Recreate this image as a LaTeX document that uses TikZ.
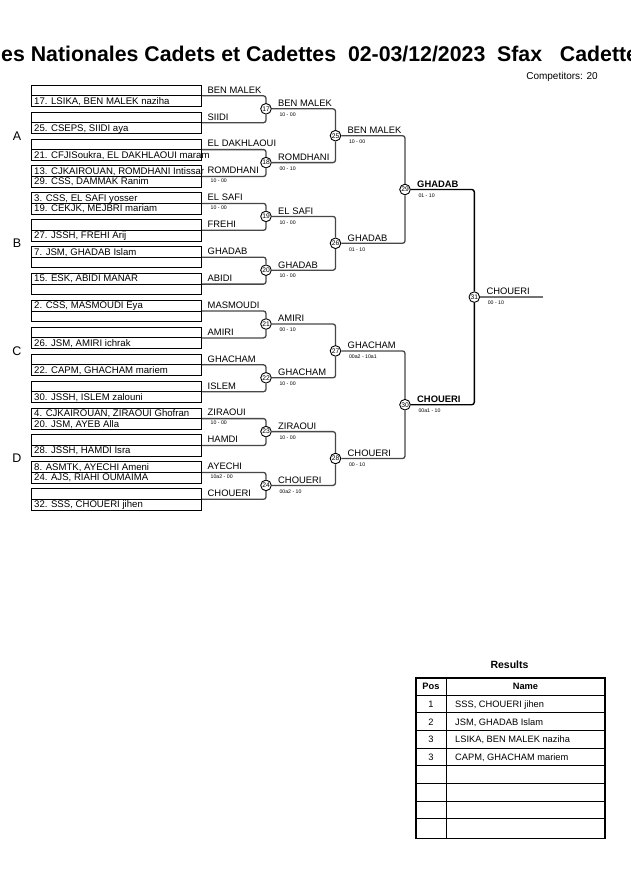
\documentclass[tikz,border=0pt]{standalone}
\usepackage{fontspec}
\setmainfont{Liberation Sans}
\newcommand\bx[6]{%
  \node[box] (b#1) at (31,#2) {};
  \draw[dv] (b#1.west) -- (b#1.east);
  \node[pn] (b#1t) at (34,#2+8.9) {#3};
  \node[pn] (b#1b) at (34,#2+19.5) {#4};
  \node[nm] (b#1l) at (207.5,#2+8.45) {#5};
  \node[sc] (b#1s) at (210.5,#2+17.45) {#6};
}
\newcommand\mt[6]{%
  \node[mc] (m#1) at (#2,#3) {#1};
  \node[nm,#6] (m#1l) at (#2+12,#3-2.2) {#4};
  \node[sc] (m#1s) at (#2+13.3,#3+7.7) {#5};
}
\begin{document}
\begin{tikzpicture}[x=1pt,y=-1pt,
  box/.style={draw=black,line width=0.9pt,rectangle,minimum width=170pt,minimum height=21.3pt,inner sep=0pt,anchor=north west},
  dv/.style={draw=black,line width=0.9pt},
  nm/.style={font=\fontsize{9.4}{10}\selectfont,inner sep=0pt,anchor=base west},
  pn/.style={font=\fontsize{9.6}{10}\selectfont,inner sep=0pt,anchor=base west},
  sc/.style={font=\fontsize{5.2}{6}\selectfont,inner sep=0pt,anchor=base west},
  mc/.style={circle,draw=black,fill=white,line width=0.9pt,minimum size=10.6pt,inner sep=0pt,font=\fontsize{6.7}{7}\selectfont},
  br/.style={draw=black!72,line width=1.3pt,rounded corners=2.5pt},
  sf/.style={draw=black,line width=1.4pt,rounded corners=2.5pt},
  fl/.style={draw=black!55,line width=1.3pt},
  grp/.style={font=\fontsize{12.5}{14}\selectfont,inner sep=0pt},
  tl/.style={draw=black,line width=0.9pt},
  th/.style={font=\bfseries\fontsize{9.3}{10}\selectfont,inner sep=0pt,anchor=base},
  tc/.style={font=\fontsize{9.3}{10}\selectfont,inner sep=0pt,anchor=base},
  tn/.style={font=\fontsize{9.3}{10}\selectfont,inner sep=0pt,anchor=base west}]
\useasboundingbox (0,0) rectangle (630,891);
\fill[white] (0,0) rectangle (630,891);

% title
\node[anchor=base west,inner sep=0pt,font=\bfseries\fontsize{21.3}{24}\selectfont] (title) at (1,62)
  {es Nationales Cadets et Cadettes\ \ 02-03/12/2023\ \ Sfax\ \ \ Cadette};
\node[anchor=base east,inner sep=0pt,font=\fontsize{10}{12}\selectfont] (comp) at (598,80) {Competitors: 20};

% group letters
\node[grp] (gA) at (17,136) {A};
\node[grp] (gB) at (17,243.5) {B};
\node[grp] (gC) at (17,351) {C};
\node[grp] (gD) at (17,458.5) {D};

% entry boxes
\bx{1}{84.7}{}{17. LSIKA, BEN MALEK naziha}{BEN MALEK}{}
\bx{2}{111.6}{}{25. CSEPS, SIIDI aya}{SIIDI}{}
\bx{3}{138.5}{}{21. CFJISoukra, EL DAKHLAOUI maram}{EL DAKHLAOUI}{}
\bx{4}{165.4}{13. CJKAIROUAN, ROMDHANI Intissar}{29. CSS, DAMMAK Ranim}{ROMDHANI}{10 - 00}
\bx{5}{192.3}{3. CSS, EL SAFI yosser}{19. CEKJK, MEJBRI mariam}{EL SAFI}{10 - 00}
\bx{6}{219.2}{}{27. JSSH, FREHI Arij}{FREHI}{}
\bx{7}{246.1}{7. JSM, GHADAB Islam}{}{GHADAB}{}
\bx{8}{273.0}{15. ESK, ABIDI MANAR}{}{ABIDI}{}
\bx{9}{299.9}{2. CSS, MASMOUDI Eya}{}{MASMOUDI}{}
\bx{10}{326.8}{}{26. JSM, AMIRI ichrak}{AMIRI}{}
\bx{11}{353.7}{}{22. CAPM, GHACHAM mariem}{GHACHAM}{}
\bx{12}{380.6}{}{30. JSSH, ISLEM zalouni}{ISLEM}{}
\bx{13}{407.5}{4. CJKAIROUAN, ZIRAOUI Ghofran}{20. JSM, AYEB Alla}{ZIRAOUI}{10 - 00}
\bx{14}{434.4}{}{28. JSSH, HAMDI Isra}{HAMDI}{}
\bx{15}{461.3}{8. ASMTK, AYECHI Ameni}{24. AJS, RIAHI OUMAIMA}{AYECHI}{10a2 - 00}
\bx{16}{488.2}{}{32. SSS, CHOUERI jihen}{CHOUERI}{}

% matches
\mt{17}{266}{108.8}{BEN MALEK}{10 - 00}{}
\mt{18}{266}{162.6}{ROMDHANI}{00 - 10}{}
\mt{19}{266}{216.4}{EL SAFI}{10 - 00}{}
\mt{20}{266}{270.2}{GHADAB}{10 - 00}{}
\mt{21}{266}{324.0}{AMIRI}{00 - 10}{}
\mt{22}{266}{377.8}{GHACHAM}{10 - 00}{}
\mt{23}{266}{431.6}{ZIRAOUI}{10 - 00}{}
\mt{24}{266}{485.4}{CHOUERI}{00a2 - 10}{}
\mt{25}{335.5}{135.7}{BEN MALEK}{10 - 00}{}
\mt{26}{335.5}{243.3}{GHADAB}{01 - 10}{}
\mt{27}{335.5}{350.9}{GHACHAM}{00a2 - 10a1}{}
\mt{28}{335.5}{458.5}{CHOUERI}{00 - 10}{}
\mt{29}{405}{189.5}{GHADAB}{01 - 10}{font=\bfseries\fontsize{9.4}{10}\selectfont}
\mt{30}{405}{404.7}{CHOUERI}{00a1 - 10}{font=\bfseries\fontsize{9.4}{10}\selectfont}
\mt{31}{474.3}{297.1}{CHOUERI}{00 - 10}{}
\coordinate (fin) at (542.7,297.1);

% round 1 brackets
\foreach \a/\b/\m in {1/2/17,3/4/18,5/6/19,7/8/20,9/10/21,11/12/22,13/14/23,15/16/24}{
  \draw[br] (b\a.east) -| (m\m);
  \draw[br] (m\m) |- (b\b.east);
}
% round 2 and 3 brackets
\foreach \a/\b/\m in {17/18/25,19/20/26,21/22/27,23/24/28,25/26/29,27/28/30}{
  \draw[br] (m\a) -| (m\m);
  \draw[br] (m\m) |- (m\b);
}
% final bracket
\draw[sf] (m29) -| (m31);
\draw[sf] (m31) |- (m30);
\draw[fl] (m31) -- (fin);

% results table
\node[anchor=base,inner sep=0pt,font=\bfseries\fontsize{10.5}{12}\selectfont] (res) at (509.5,668.5) {Results};
\node[draw=black,line width=1.7pt,rectangle,minimum width=189.3pt,minimum height=160.2pt,inner sep=0pt,anchor=north west] (tab) at (415,677.3) {};
\foreach \k in {0,...,7}{
  \draw[tl] (415,{695+17.7*\k}) -- (604.3,{695+17.7*\k});
}
\draw[tl] (446.7,677.3) -- (446.7,837.5);
\node[th] (hpos) at (431,689.5) {Pos};
\node[th] (hname) at (525.5,689.5) {Name};
\node[tc] (p1) at (431,707.3) {1};
\node[tn] (n1) at (455,707.3) {SSS, CHOUERI jihen};
\node[tc] (p2) at (431,725.0) {2};
\node[tn] (n2) at (455,725.0) {JSM, GHADAB Islam};
\node[tc] (p3) at (431,742.7) {3};
\node[tn] (n3) at (455,742.7) {LSIKA, BEN MALEK naziha};
\node[tc] (p4) at (431,760.4) {3};
\node[tn] (n4) at (455,760.4) {CAPM, GHACHAM mariem};
\end{tikzpicture}
\end{document}
